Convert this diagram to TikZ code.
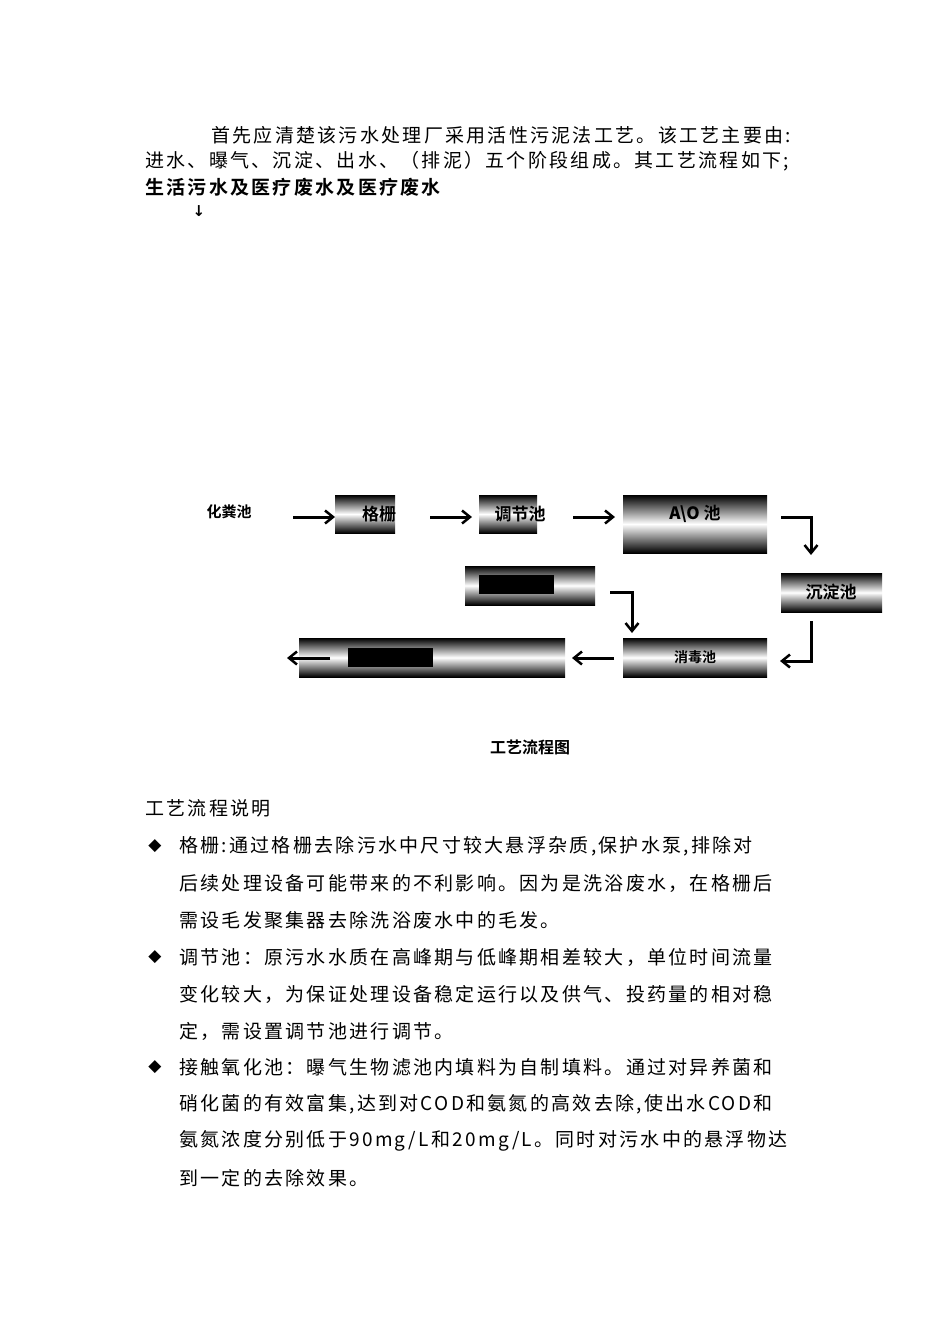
\documentclass[tikz,border=0pt]{standalone}
\usepackage{fontspec}
\setmainfont{Liberation Serif}
\newfontfamily\cjk[LetterSpace=12]{Noto Sans CJK SC}
\newfontfamily\cjkb[LetterSpace=12]{Noto Sans CJK SC Bold}
\newfontfamily\cjkl{Noto Sans CJK SC Bold}
\newfontfamily\dv{DejaVu Sans}
\begin{document}
\begin{tikzpicture}[x=1pt,y=-1pt,
  tank/.style={top color=black,bottom color=black,middle color=white,shading angle=0},
  lbl/.style={font=\cjkl\fontsize{17}{17}\selectfont},
  body/.style={anchor=west,inner sep=0,font=\cjk\fontsize{19}{19}\selectfont},
  flow/.style={line width=3pt,-{Straight Barb[length=8pt,width=13pt,line width=2.5pt]}}]
\usetikzlibrary{arrows.meta}
\useasboundingbox (0,0) rectangle (950,1344);
% intro text
\node[body] (t1) at (211,135) {首先应清楚该污水处理厂采用活性污泥法工艺。该工艺主要由:};
\node[body] (t2) at (145,161) {进水、曝气、沉淀、出水、（排泥）五个阶段组成。其工艺流程如下;};
\node[body,font=\cjkb\fontsize{19}{19}\selectfont] (t3) at (145,187) {生活污水及医疗废水及医疗废水};
\node[anchor=center,font=\dv\bfseries\fontsize{15}{15}\selectfont] (t4) at (199,211) {↓};
% tanks
\shade[tank] (335,495) rectangle (395,533); \node[lbl] (gs) at (379,514) {格栅};
\shade[tank] (479,495) rectangle (537,533); \node[lbl] (tj) at (520,514) {调节池};
\shade[tank] (623,495) rectangle (767,553); \node[lbl] (ao) at (695,514) {{\bfseries A\textbackslash O} 池};
\shade[tank] (781,573) rectangle (882,612); \node[lbl] (cd) at (831,592) {沉淀池};
\shade[tank] (465,566) rectangle (595,605); \fill (479,575) rectangle (554,594);
\shade[tank] (623,638) rectangle (767,677); \node[lbl,font=\cjkl\fontsize{14}{14}\selectfont] (xd) at (695,657) {消毒池};
\shade[tank] (299,638) rectangle (565,677); \fill (348,648) rectangle (433,667);
\node[font=\cjkl\fontsize{15}{15}\selectfont] (hf) at (229,512) {化粪池};
% arrows
\coordinate (a1) at (293,517); \coordinate (a2) at (335,517);
\coordinate (b1) at (430,517); \coordinate (b2) at (472,517);
\coordinate (c1) at (573,517); \coordinate (c2) at (615,517);
\coordinate (d1) at (781,517); \coordinate (d2) at (811,555);
\coordinate (e1) at (811,621); \coordinate (e2) at (780,661);
\coordinate (f1) at (610,592); \coordinate (f2) at (632,633);
\coordinate (g1) at (614,658); \coordinate (g2) at (572,658);
\coordinate (h1) at (330,658); \coordinate (h2) at (287,658);
\draw[flow] (a1) -- (a2);
\draw[flow] (b1) -- (b2);
\draw[flow] (c1) -- (c2);
\draw[flow] (d1) -| (d2);
\draw[flow] (e1) |- (e2);
\draw[flow] (f1) -| (f2);
\draw[flow] (g1) -- (g2);
\draw[flow] (h1) -- (h2);
\node[font=\cjkl\fontsize{16}{16}\selectfont] (cap) at (530,747) {工艺流程图};
% explanation
\node[body] (s0) at (145,808) {工艺流程说明};
\node[font=\dv\fontsize{17}{17}\selectfont] (m1) at (155,846) {◆};
\node[font=\dv\fontsize{17}{17}\selectfont] (m2) at (155,957) {◆};
\node[font=\dv\fontsize{17}{17}\selectfont] (m3) at (155,1067) {◆};
\node[body] (l1) at (179,846) {格栅:通过格栅去除污水中尺寸较大悬浮杂质,保护水泵,排除对};
\node[body] (l2) at (179,883) {后续处理设备可能带来的不利影响。因为是洗浴废水，在格栅后};
\node[body] (l3) at (179,920) {需设毛发聚集器去除洗浴废水中的毛发。};
\node[body] (l4) at (179,957) {调节池：原污水水质在高峰期与低峰期相差较大，单位时间流量};
\node[body] (l5) at (179,994) {变化较大，为保证处理设备稳定运行以及供气、投药量的相对稳};
\node[body] (l6) at (179,1031) {定，需设置调节池进行调节。};
\node[body] (l7) at (179,1067) {接触氧化池：曝气生物滤池内填料为自制填料。通过对异养菌和};
\node[body] (l8) at (179,1104) {硝化菌的有效富集,达到对COD和氨氮的高效去除,使出水COD和};
\node[body] (l9) at (179,1141) {氨氮浓度分别低于90mg/L和20mg/L。同时对污水中的悬浮物达};
\node[body] (l10) at (179,1178) {到一定的去除效果。};
\end{tikzpicture}
\end{document}
